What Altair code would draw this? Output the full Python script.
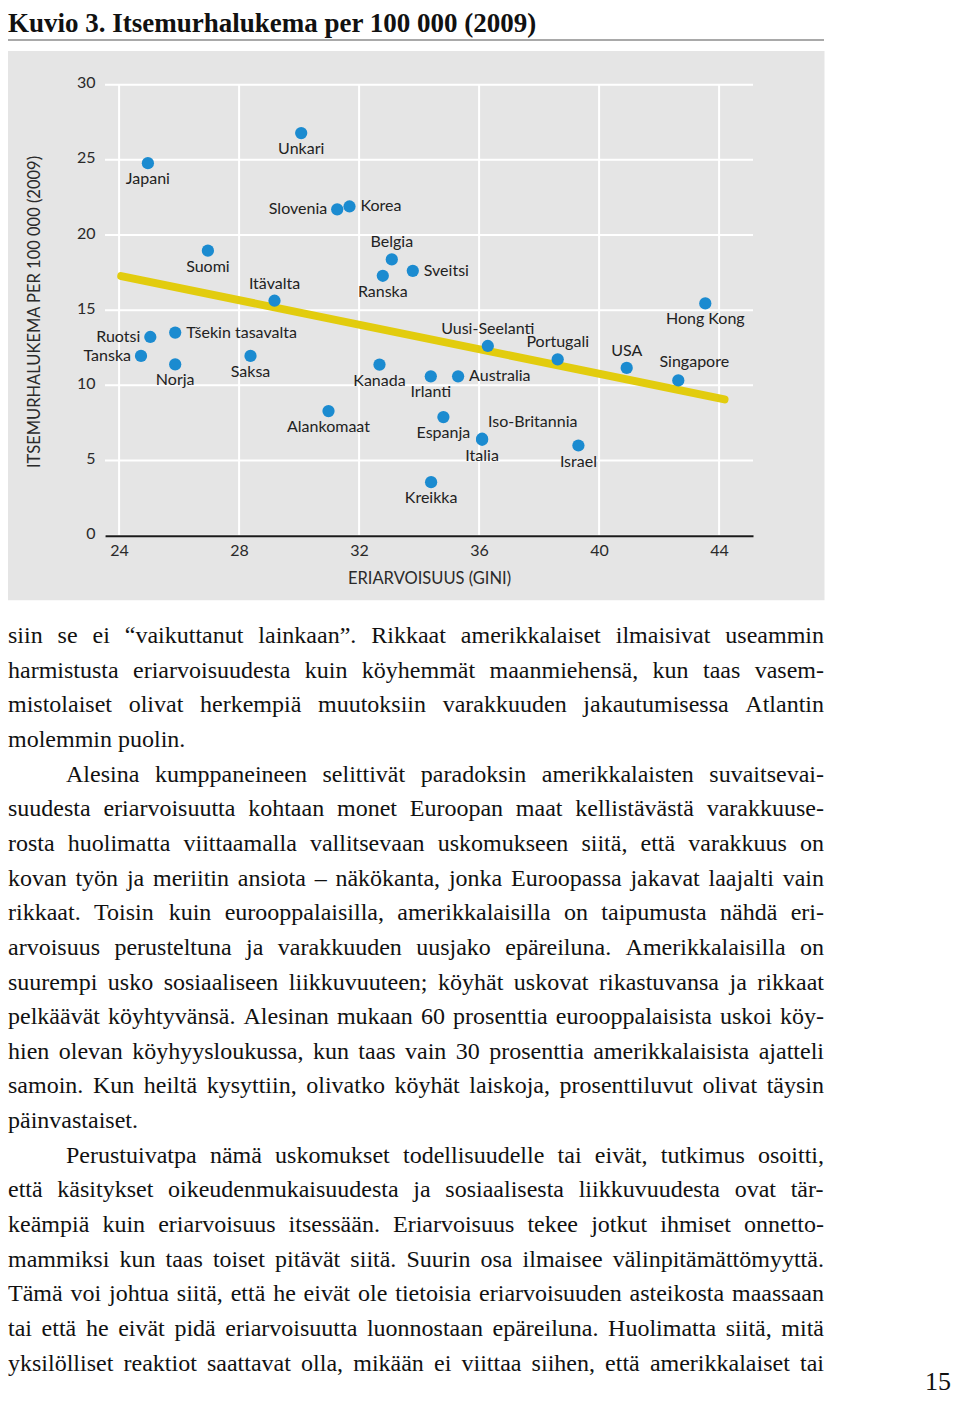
import altair as alt
import pandas as pd

# ---------------- data ----------------
countries = ["Japani", "Unkari", "Slovenia", "Korea", "Suomi", "Itävalta", "Belgia",
             "Ranska", "Sveitsi", "Hong Kong", "Uusi-Seelanti", "Portugali", "USA",
             "Singapore", "Kanada", "Irlanti", "Australia", "Ruotsi", "Tšekin tasavalta",
             "Tanska", "Norja", "Saksa", "Alankomaat", "Espanja", "Iso-Britannia",
             "Italia", "Israel", "Kreikka"]
gini = [24.96, 30.07, 31.27, 31.68, 26.96, 29.18, 33.09,
        32.79, 33.79, 43.54, 36.29, 38.62, 40.92,
        42.64, 32.68, 34.39, 35.30, 25.04, 25.87,
        24.73, 25.87, 28.38, 30.98, 34.81, 36.10,
        36.10, 39.31, 34.40]
rate = [24.78, 26.78, 21.71, 21.90, 18.96, 15.63, 18.38,
        17.29, 17.62, 15.45, 12.62, 11.73, 11.16,
        10.33, 11.38, 10.60, 10.60, 13.22, 13.51,
        11.96, 11.40, 11.96, 8.29, 7.89, 6.45,
        6.38, 6.00, 3.56]
placement = ["below", "below", "left", "right", "below", "above", "above",
             "below", "right", "below", "above", "above", "above",
             "above_shift", "below", "below", "right", "left", "right",
             "left", "below", "below", "below", "below", "above_right",
             "below", "below", "below"]

trend_gini = [24.07, 44.18]
trend_rate = [17.27, 9.07]

x_ticks = [24, 28, 32, 36, 40, 44]
y_ticks = [0, 5, 10, 15, 20, 25, 30]

title_text = "Kuvio 3. Itsemurhalukema per 100 000 (2009)"
x_title = "ERIARVOISUUS (GINI)"
y_title = "ITSEMURHALUKEMA PER 100 000 (2009)"
page_number = "15"

body_lines = [
    "siin se ei “vaikuttanut lainkaan”. Rikkaat amerikkalaiset ilmaisivat useammin",
    "harmistusta eriarvoisuudesta kuin köyhemmät maanmiehensä, kun taas vasem-",
    "mistolaiset olivat herkempiä muutoksiin varakkuuden jakautumisessa Atlantin",
    "molemmin puolin.",
    "Alesina kumppaneineen selittivät paradoksin amerikkalaisten suvaitsevai-",
    "suudesta eriarvoisuutta kohtaan monet Euroopan maat kellistävästä varakkuuse-",
    "rosta huolimatta viittaamalla vallitsevaan uskomukseen siitä, että varakkuus on",
    "kovan työn ja meriitin ansiota – näkökanta, jonka Euroopassa jakavat laajalti vain",
    "rikkaat. Toisin kuin eurooppalaisilla, amerikkalaisilla on taipumusta nähdä eri-",
    "arvoisuus perusteltuna ja varakkuuden uusjako epäreiluna. Amerikkalaisilla on",
    "suurempi usko sosiaaliseen liikkuvuuteen; köyhät uskovat rikastuvansa ja rikkaat",
    "pelkäävät köyhtyvänsä. Alesinan mukaan 60 prosenttia eurooppalaisista uskoi köy-",
    "hien olevan köyhyysloukussa, kun taas vain 30 prosenttia amerikkalaisista ajatteli",
    "samoin. Kun heiltä kysyttiin, olivatko köyhät laiskoja, prosenttiluvut olivat täysin",
    "päinvastaiset.",
    "Perustuivatpa nämä uskomukset todellisuudelle tai eivät, tutkimus osoitti,",
    "että käsitykset oikeudenmukaisuudesta ja sosiaalisesta liikkuvuudesta ovat tär-",
    "keämpiä kuin eriarvoisuus itsessään. Eriarvoisuus tekee jotkut ihmiset onnetto-",
    "mammiksi kun taas toiset pitävät siitä. Suurin osa ilmaisee välinpitämättömyyttä.",
    "Tämä voi johtua siitä, että he eivät ole tietoisia eriarvoisuuden asteikosta maassaan",
    "tai että he eivät pidä eriarvoisuutta luonnostaan epäreiluna. Huolimatta siitä, mitä",
    "yksilölliset reaktiot saattavat olla, mikään ei viittaa siihen, että amerikkalaiset tai",
]
paragraph_first = [4, 15]   # indented lines
paragraph_last = [3, 14]    # not justified

# ---------------- styling / layout ----------------
W, H = 648, 451
XDOM = [23.53, 45.13]
YDOM = [0, 30]
BLUE = "#1b8bd0"
GOLD = "#e2cc0e"
BG = "#e5e5e5"
SANS = "Lato"
SERIF = "Liberation Serif"
BODY_FS = 24
COL_W = 816
INDENT = 58

# Times-compatible advance widths (1/1000 em) for justification
TNR = {c: w for c, w in zip("abcdefghijklmnopqrstuvwxyz",
        [444, 500, 444, 500, 444, 333, 500, 500, 278, 278, 500, 278, 778,
         500, 500, 500, 500, 333, 389, 278, 500, 500, 722, 500, 500, 444])}
TNR.update({c: w for c, w in zip("ABCDEFGHIJKLMNOPQRSTUVWXYZ",
        [722, 667, 667, 722, 611, 556, 722, 722, 333, 389, 722, 611, 889,
         722, 722, 556, 722, 667, 556, 611, 722, 722, 944, 722, 722, 611])})
TNR.update({" ": 250, ".": 250, ",": 250, "-": 333, ";": 278, ":": 278,
            "“": 444, "”": 444, "–": 500, "(": 333, ")": 333,
            "ä": 444, "ö": 500, "å": 444, "š": 389, "Ä": 722, "Ö": 722})
for d in "0123456789":
    TNR[d] = 500


def wwidth(w):
    return sum(TNR.get(c, 500) for c in w) / 1000 * BODY_FS


rows = []
for i, line in enumerate(body_lines):
    words = line.split(" ")
    start = INDENT if i in paragraph_first else 0
    avail = COL_W - start
    widths = [wwidth(w) for w in words]
    if i not in paragraph_last and len(words) > 1:
        gap = (avail - sum(widths)) / (len(words) - 1)
        gap = max(gap, 0.12 * BODY_FS)
    else:
        gap = 0.25 * BODY_FS
    x = start
    for w, wd in zip(words, widths):
        rows.append({"line": i, "wx": x, "word": w})
        x += wd + gap
words_df = pd.DataFrame(rows)

pts = pd.DataFrame({"country": countries, "gini": gini, "rate": rate, "placement": placement})
trend = pd.DataFrame({"gini": trend_gini, "rate": trend_rate})
vgrid = pd.DataFrame({"gini": x_ticks})
hgrid = pd.DataFrame({"rate": y_ticks})
one = pd.DataFrame({"a": [0]})

xscale = alt.Scale(domain=XDOM, zero=False, nice=False)
yscale = alt.Scale(domain=YDOM, zero=False, nice=False)

x_axis = alt.Axis(values=x_ticks, grid=False, ticks=False, tickSize=0, domain=True,
                  domainColor="#1a1a1a", domainWidth=2, labelFont=SANS, labelFontSize=16,
                  labelColor="#2a2a2a", labelBaseline="middle", labelPadding=15,
                  title=x_title, titleFont=SANS, titleFontSize=16.5, titleFontWeight="normal",
                  titleColor="#2a2a2a", titleY=42.3, titleBaseline="middle", zindex=1,
                  labelFlush=False)
y_axis = alt.Axis(values=y_ticks, grid=False, ticks=False, tickSize=0, domain=False,
                  labelFont=SANS, labelFontSize=16, labelColor="#2a2a2a", labelPadding=10,
                  labelBaseline="middle", labelOffset=-2, labelFlush=False,
                  title=y_title, titleFont=SANS, titleFontSize=16.5, titleFontWeight="normal",
                  titleColor="#2a2a2a", titleX=-71, titleY=226.8, titleAngle=270,
                  titleAlign="center", titleBaseline="middle", zindex=1)

X = alt.X("gini:Q", scale=xscale, axis=x_axis)
Y = alt.Y("rate:Q", scale=yscale, axis=y_axis)

# background panel and header
bg = alt.Chart(one).mark_rect(color=BG).encode(
    x=alt.value(-97), x2=alt.value(719.5), y=alt.value(-33.7), y2=alt.value(515.5))
head_rule = alt.Chart(one).mark_rule(color="#8c8c8c", strokeWidth=1.6).encode(
    x=alt.value(-99), x2=alt.value(719), y=alt.value(-44.7))
head_text = alt.Chart(one).mark_text(
    text=title_text, font=SERIF, fontSize=27, fontWeight="bold", align="left",
    baseline="alphabetic", color="#111").encode(x=alt.value(-97), y=alt.value(-52.3))

# grid (drawn as marks so it sits above the panel)
vlines = alt.Chart(vgrid).mark_rule(color="white", strokeWidth=2).encode(
    x=X, y=alt.datum(30), y2=alt.datum(0))
hlines = alt.Chart(hgrid).mark_rule(color="white", strokeWidth=2).encode(
    y=Y, x=alt.datum(XDOM[0]), x2=alt.datum(XDOM[1]))

trend_line = alt.Chart(trend).mark_line(color=GOLD, strokeWidth=8, strokeCap="round").encode(
    x=X, y=Y)
points = alt.Chart(pts).mark_circle(color=BLUE, size=150, opacity=1).encode(x=X, y=Y)

PLACE = {
    "below": dict(align="center", dx=0, dy=16),
    "above": dict(align="center", dx=0, dy=-17),
    "left": dict(align="right", dx=-10, dy=0),
    "right": dict(align="left", dx=11, dy=0),
    "above_right": dict(align="left", dx=6, dy=-17),
    "above_shift": dict(align="center", dx=16, dy=-18),
}
label_layers = []
for name, p in PLACE.items():
    sub = pts[pts.placement == name]
    label_layers.append(
        alt.Chart(sub).mark_text(font=SANS, fontSize=16, color="#222", baseline="middle", **p)
        .encode(x=X, y=Y, text="country:N"))

scatter = alt.layer(vlines, hlines, trend_line, points, *label_layers)

body = alt.Chart(words_df).mark_text(
    font=SERIF, fontSize=BODY_FS, align="left", baseline="alphabetic", color="#111").encode(
    x=alt.X("wx:Q", scale=alt.Scale(domain=[0, COL_W], range=[-97, 719], zero=False, nice=False), axis=None),
    y=alt.Y("line:Q", scale=alt.Scale(domain=[0, 21], range=[558.3, 1285.95], zero=False, nice=False), axis=None),
    text="word:N")

pnum = alt.Chart(one).mark_text(
    text=page_number, font=SERIF, fontSize=26, align="right", baseline="alphabetic",
    color="#111").encode(x=alt.value(846), y=alt.value(1305))

chart = alt.layer(bg, head_rule, head_text, scatter, body, pnum).resolve_scale(
    x="independent", y="independent"
).properties(
    width=W, height=H,
    autosize=alt.AutoSizeParams(type="none"),
    padding={"left": 97, "top": 76.7, "right": 199, "bottom": 861.3},
    background="white",
).configure_view(strokeWidth=0)

chart.save("out.html", embed_options={"renderer": "svg", "actions": False})
